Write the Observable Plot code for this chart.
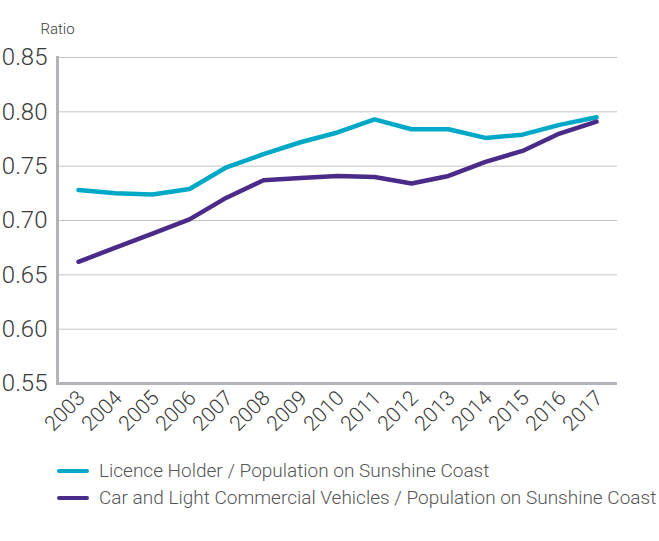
<!DOCTYPE html>
<html>
<head>
<meta charset="utf-8">
<script src="https://cdn.jsdelivr.net/npm/d3@7"></script>
<script src="https://cdn.jsdelivr.net/npm/@observablehq/plot@0.6"></script>
<style>
  html, body { margin: 0; padding: 0; background: #fff; }
  body { width: 659px; height: 541px; overflow: hidden; font-family: Roboto, "Liberation Sans", sans-serif; font-weight: 300; }
  #legend { margin-left: 57px; margin-top: 12px; }
  .row { display: flex; align-items: center; height: 27px; font-size: 19px; color: #555; font-weight: 300; white-space: nowrap; }
  .sw { width: 32px; height: 4px; border-radius: 2px; margin-right: 10px; }
</style>
</head>
<body>
<div id="chart"></div>
<div id="legend"></div>
<script>
const years = ["2003","2004","2005","2006","2007","2008","2009","2010","2011","2012","2013","2014","2015","2016","2017"];
const licenceRatio = [0.728,0.725,0.724,0.729,0.749,0.761,0.772,0.781,0.793,0.784,0.784,0.776,0.779,0.788,0.795];
const vehicleRatio = [0.662,0.675,0.688,0.701,0.721,0.737,0.739,0.741,0.740,0.734,0.741,0.754,0.764,0.780,0.791];
const seriesNames = ["Licence Holder / Population on Sunshine Coast", "Car and Light Commercial Vehicles / Population on Sunshine Coast"];
const seriesColors = ["#00a8c8", "#4b2b8a"];
const yTicks = [0.55,0.60,0.65,0.70,0.75,0.80,0.85];
const yLabel = "Ratio";

const data = [];
years.forEach((y, i) => {
  data.push({year: y, value: licenceRatio[i], series: seriesNames[0]});
  data.push({year: y, value: vehicleRatio[i], series: seriesNames[1]});
});

const chart = Plot.plot({
  width: 659,
  height: 445,
  marginLeft: 57,
  marginRight: 42,
  marginTop: 57,
  marginBottom: 62,
  style: {fontFamily: "Roboto, 'Liberation Sans', sans-serif", fontWeight: 300, color: "#3a3a3a", background: "#fff"},
  x: {type: "point", domain: years, padding: 0.5},
  y: {domain: [0.55, 0.85]},
  color: {domain: seriesNames, range: seriesColors},
  marks: [
    Plot.ruleY(yTicks.slice(1), {stroke: "#c4c4c4", strokeWidth: 1}),
    Plot.ruleY([0.55], {stroke: "#b3b3ba", strokeWidth: 3}),
    Plot.frame({anchor: "left", stroke: "#b3b3ba", strokeWidth: 3}),
    Plot.axisY(yTicks, {tickSize: 0, tickPadding: 10, tickFormat: d3.format(".2f"), fontSize: 24, label: null}),
    Plot.axisX({tickSize: 0, tickRotate: -45, tickPadding: 11, fontSize: 21, label: null, dx: 3}),
    Plot.text([yLabel], {frameAnchor: "top-left", dy: -24, lineAnchor: "bottom", textAnchor: "middle", fontSize: 15, fill: "#3a3a3a"}),
    Plot.line(data, {x: "year", y: "value", z: "series", stroke: "series", strokeWidth: 4.5, curve: "linear"})
  ]
});
document.getElementById("chart").appendChild(chart);

const legend = document.getElementById("legend");
seriesNames.forEach((name, i) => {
  const row = document.createElement("div");
  row.className = "row";
  const sw = document.createElement("span");
  sw.className = "sw";
  sw.style.background = seriesColors[i];
  const t = document.createElement("span");
  t.textContent = name;
  row.appendChild(sw);
  row.appendChild(t);
  legend.appendChild(row);
});
</script>
</body>
</html>
